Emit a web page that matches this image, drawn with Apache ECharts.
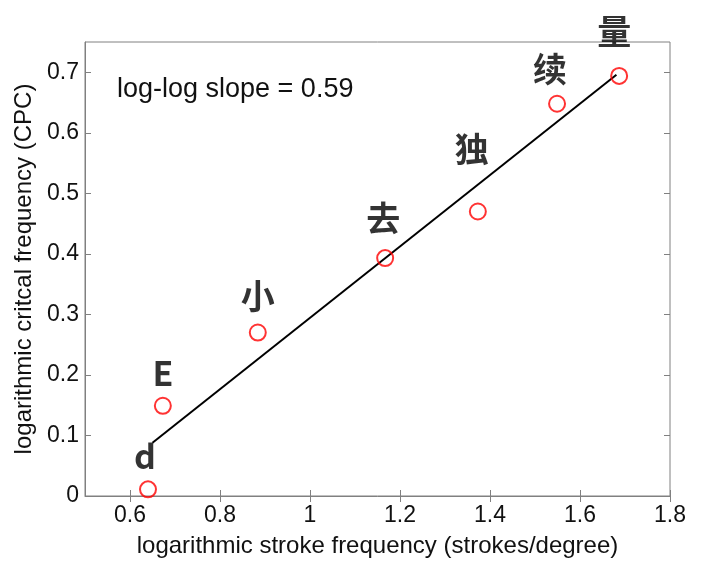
<!DOCTYPE html>
<html><head><meta charset="utf-8">
<script src="https://cdn.jsdelivr.net/npm/echarts@6/dist/echarts.min.js"></script>
<style>html,body{margin:0;padding:0;background:#fff}#c{width:701px;height:563px}</style>
</head><body><div id="c"></div>
<script>
const strokeFreq = [0.640, 0.673, 0.884, 1.167, 1.373, 1.549, 1.687];
const criticalFreq = [0.011, 0.149, 0.270, 0.393, 0.470, 0.648, 0.694];
const charLabels = ['d', 'E', '小', '去', '独', '续', '量'];
const fitX = [0.650, 1.681];
const fitY = [0.088, 0.696];
const xTicks = [0.6, 0.8, 1, 1.2, 1.4, 1.6, 1.8];
const yTicks = [0, 0.1, 0.2, 0.3, 0.4, 0.5, 0.6, 0.7];
const annotation = 'log-log slope = 0.59';

const labelOffsets = [[-3, 0], [0, 0], [0, -3], [-2, -7], [-6, -29], [-7, -2], [-5, -12]];
const font = 'Liberation Sans, Arial, Helvetica, sans-serif';
const cjk = '"Noto Sans CJK SC", sans-serif';
const fmt = v => String(+(+v).toFixed(1));

const chart = echarts.init(document.getElementById('c'), null, {renderer: 'canvas'});
const tickStyle = {show: true, inside: true, length: 6, lineStyle: {color: '#808080', width: 1}};
chart.setOption({
  animation: false,
  grid: {left: 85, right: 31, top: 42, bottom: 62, show: true, borderColor: '#808080', borderWidth: 1, containLabel: false},
  xAxis: [{
    type: 'value', min: 0.5, max: 1.8,
    axisLine: {show: true, onZero: false, lineStyle: {color: '#808080', width: 1}},
    axisTick: Object.assign({customValues: xTicks}, tickStyle),
    axisLabel: {customValues: xTicks, formatter: fmt, color: '#111', fontSize: 23, fontFamily: font, margin: 8, showMaxLabel: true, showMinLabel: true},
    splitLine: {show: false},
    name: 'logarithmic stroke frequency (strokes/degree)', nameLocation: 'middle', nameGap: 38,
    nameTextStyle: {color: '#111', fontSize: 24, fontFamily: font}
  }, {
    type: 'value', min: 0.5, max: 1.8, position: 'top',
    axisLine: {show: false}, axisLabel: {show: false}, splitLine: {show: false},
    axisTick: Object.assign({customValues: xTicks}, tickStyle)
  }],
  yAxis: [{
    type: 'value', min: 0, max: 0.75,
    axisLine: {show: true, onZero: false, lineStyle: {color: '#808080', width: 1}},
    axisTick: Object.assign({customValues: yTicks}, tickStyle),
    axisLabel: {customValues: yTicks, formatter: fmt, color: '#111', fontSize: 23, fontFamily: font, margin: 6, showMinLabel: true},
    splitLine: {show: false},
    name: 'logarithmic critcal frequency (CPC)', nameLocation: 'middle', nameGap: 48,
    nameTextStyle: {color: '#111', fontSize: 24, fontFamily: font}
  }, {
    type: 'value', min: 0, max: 0.75, position: 'right',
    axisLine: {show: false}, axisLabel: {show: false}, splitLine: {show: false},
    axisTick: Object.assign({customValues: yTicks}, tickStyle)
  }],
  graphic: [{
    type: 'text', left: 117, top: 76,
    style: {text: annotation, fontSize: 27, fontFamily: font, fill: '#111'}
  }],
  series: [{
    type: 'line', data: fitX.map((x, i) => [x, fitY[i]]), symbol: 'none',
    lineStyle: {color: '#000', width: 2}, z: 2
  }, {
    type: 'scatter', data: strokeFreq.map((x, i) => [x, criticalFreq[i]]),
    symbol: 'circle', symbolSize: 16,
    itemStyle: {color: 'rgba(0,0,0,0)', borderColor: '#ff0000', borderWidth: 2}, z: 3,
    label: {show: false}
  }, {
    type: 'scatter', data: strokeFreq.map((x, i) => ({
      value: [x, criticalFreq[i]],
      label: {offset: labelOffsets[i]}
    })),
    symbolSize: 0, silent: true, z: 4,
    label: {show: true, position: 'top', distance: 16,
      formatter: p => charLabels[p.dataIndex],
      fontSize: 34, fontWeight: 'bold', color: '#000', fontFamily: cjk}
  }]
});
</script></body></html>
